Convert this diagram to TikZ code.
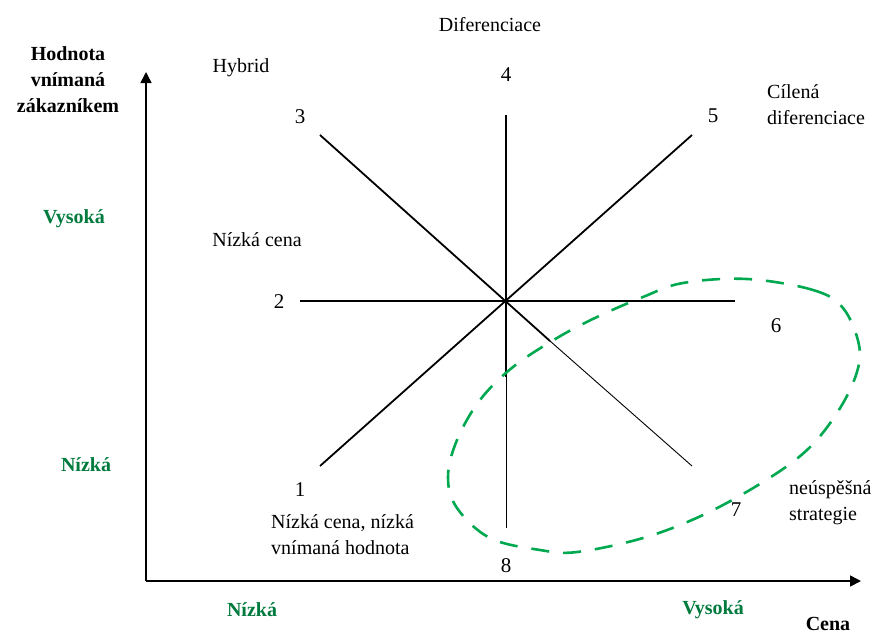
\documentclass[tikz,border=0pt]{standalone}
\usepackage{fontspec}
\setmainfont{Liberation Serif}
\usetikzlibrary{arrows.meta}
\definecolor{labelgreen}{RGB}{0,122,61}
\definecolor{loopgreen}{RGB}{0,168,80}
\begin{document}
\begin{tikzpicture}[x=1pt, y=-1pt,
  lbl/.style={font=\fontsize{20}{26}\selectfont, inner sep=0pt},
  num/.style={font=\fontsize{21}{24}\selectfont, inner sep=0pt},
  levellbl/.style={font=\bfseries\fontsize{20}{26}\selectfont, text=labelgreen, inner sep=0pt},
  ray/.style={line width=1.8pt},
  faintray/.style={line width=0.9pt},
  axis/.style={line width=1.6pt, -{Triangle[width=11pt,length=11pt]}},
  failloop/.style={loopgreen, line width=2.6pt, dash pattern=on 18pt off 14pt}]
\useasboundingbox (0,0) rectangle (877,637);
% axes
\coordinate (origin) at (146,581);
\coordinate (ytip) at (146,72);
\coordinate (xtip) at (861,581);
\draw[axis] (origin) -- (ytip);
\draw[axis] (origin) -- (xtip);
\node[lbl, font=\bfseries\fontsize{20}{26}\selectfont, align=center] (value) at (68,80) {Hodnota\\ vnímaná\\ zákazníkem};
\node[lbl, font=\bfseries\fontsize{20}{26}\selectfont] (price) at (828,624) {Cena};
\node[levellbl] (yhigh) at (74,219) {Vysoká};
\node[levellbl] (ylow) at (86,465) {Nízká};
\node[levellbl] (xlow) at (252,610) {Nízká};
\node[levellbl] (xhigh) at (713,610) {Vysoká};
% strategy clock
\coordinate (centre) at (506,301);
\coordinate (n) at (506,115);
\coordinate (nmid) at (506,377);
\coordinate (s) at (506,528);
\coordinate (w) at (300,301);
\coordinate (e) at (735,301);
\coordinate (nw) at (320,135);
\coordinate (semid) at (550,341);
\coordinate (se) at (692,466);
\coordinate (ne) at (692,135);
\coordinate (sw) at (320,466);
\draw[ray] (w) -- (e);
\draw[ray] (n) -- (nmid);
\draw[faintray] (nmid) -- (s);
\draw[ray] (nw) -- (semid);
\draw[faintray] (semid) -- (se);
\draw[ray] (ne) -- (sw);
\node[num] (r1) at (300,490) {1};
\node[num] (r2) at (279,302) {2};
\node[num] (r3) at (300,117) {3};
\node[num] (r4) at (506,75) {4};
\node[num] (r5) at (713,116) {5};
\node[num] (r6) at (776,326) {6};
\node[num] (r7) at (736,510) {7};
\node[num] (r8) at (506,566) {8};
\node[lbl] (diff) at (490,25) {Diferenciace};
\node[lbl] (hybrid) at (241,68) {Hybrid};
\node[lbl, anchor=west, align=left] (focus) at (767,105) {Cílená\\ diferenciace};
\node[lbl] (lowprice) at (257,240) {Nízká cena};
\node[lbl, anchor=west, align=left] (lowvalue) at (271,535) {Nízká cena, nízká\\ vnímaná hodnota};
\node[lbl, anchor=west, align=left] (failed) at (789,503) {neúspěšná\\ strategie};
% failure zone
\draw[failloop] plot[smooth cycle, tension=0.6] coordinates {(747,279) (813,290) (843,308) (859,345) (856,375) (837,413) (807,450) (763,482) (703,515) (643,538) (577,552) (540,550) (490,538) (457,508) (448,477) (457,440) (480,400) (513,367) (557,338) (597,317) (643,297) (683,283)};
\end{tikzpicture}
\end{document}
